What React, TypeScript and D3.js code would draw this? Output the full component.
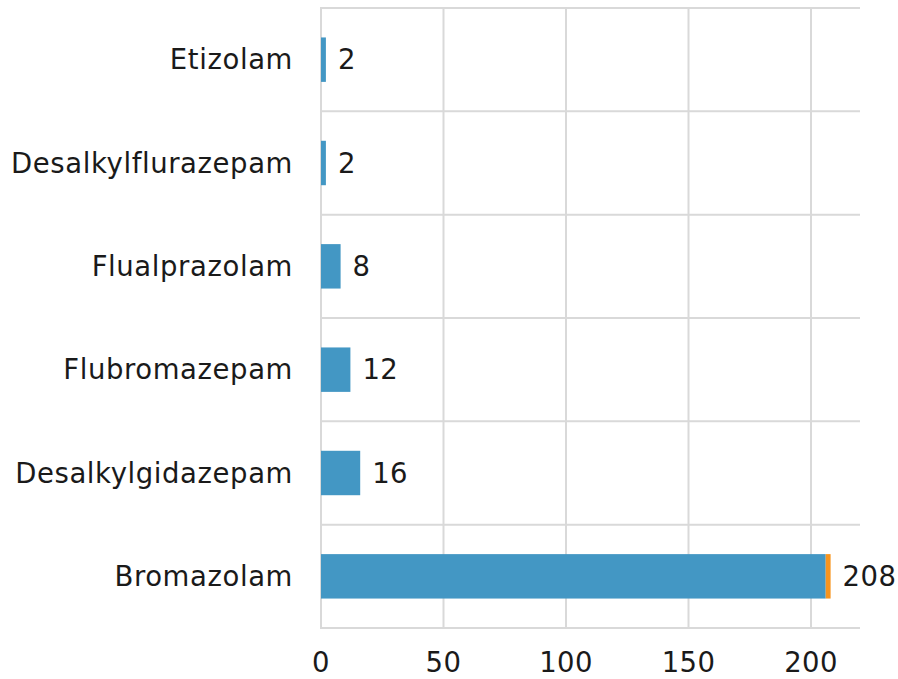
import React from "react";
import * as d3 from "d3";

const categories = ["Etizolam", "Desalkylflurazepam", "Flualprazolam", "Flubromazepam", "Desalkylgidazepam", "Bromazolam"];
const blueValues = [2, 2, 8, 12, 16, 206];
const orangeValues = [0, 0, 0, 0, 0, 2];
const totals = [2, 2, 8, 12, 16, 208];
const xTicks = [0, 50, 100, 150, 200];

const W = 898, H = 679;
const left = 321, right = 860, top = 8, bottom = 628;
const FONT = "'DejaVu Sans', sans-serif";

export default function App() {
  const x = d3.scaleLinear().domain([0, 220]).range([left, right]);
  const y = d3.scaleBand().domain(categories).range([top, bottom]).paddingInner(0.57).paddingOuter(0.285);
  const bandStep = (bottom - top) / categories.length;
  const grid = "#d9d9d9";
  return (
    <svg width={W} height={H} style={{ position: "absolute", left: 0, top: 0 }} fontFamily={FONT}>
      {xTicks.map((t) => (
        <line key={"v" + t} x1={x(t)} x2={x(t)} y1={top} y2={bottom} stroke={grid} strokeWidth={2} />
      ))}
      {d3.range(categories.length + 1).map((i) => (
        <line key={"h" + i} x1={left - 1} x2={right} y1={top + i * bandStep} y2={top + i * bandStep} stroke={grid} strokeWidth={2} />
      ))}
      {categories.map((c, i) => {
        const yy = y(c)!;
        const bh = y.bandwidth();
        return (
          <g key={c}>
            <rect x={x(0)} y={yy} width={x(blueValues[i]) - x(0)} height={bh} fill="#4397c4" />
            {orangeValues[i] > 0 && (
              <rect x={x(blueValues[i])} y={yy} width={x(blueValues[i] + orangeValues[i]) - x(blueValues[i])} height={bh} fill="#f7941d" />
            )}
            <text x={x(totals[i]) + 12} y={yy + bh / 2} dy="0.35em" fontSize={27.5} letterSpacing={0.4} fill="#1a1a1a">{totals[i]}</text>
            <text x={293} y={yy + bh / 2} dy="0.35em" fontSize={27.5} letterSpacing={0.6} textAnchor="end" fill="#1a1a1a">{c}</text>
          </g>
        );
      })}
      {xTicks.map((t) => (
        <text key={"t" + t} x={x(t)} y={672} fontSize={27.5} letterSpacing={0.4} textAnchor="middle" fill="#1a1a1a">{t}</text>
      ))}
    </svg>
  );
}
